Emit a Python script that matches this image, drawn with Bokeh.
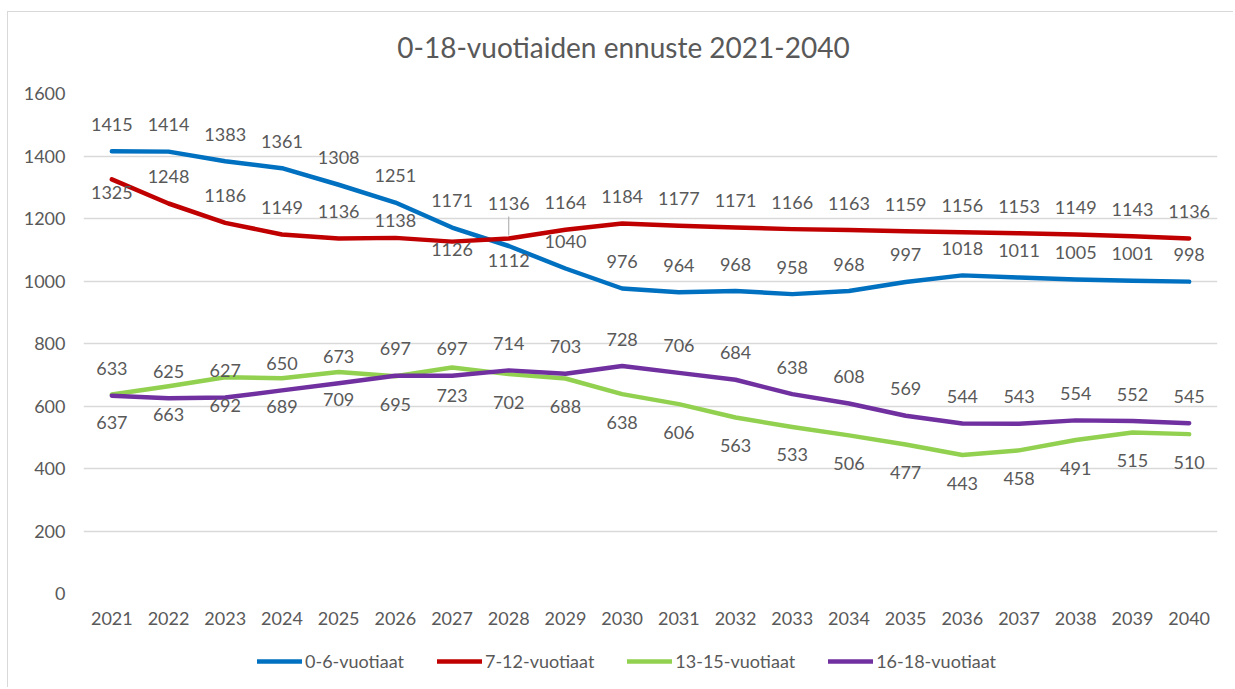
from bokeh.plotting import figure
from bokeh.models import (ColumnDataSource, Range1d, FactorRange, SingleIntervalTicker,
                          Legend, LegendItem, Div)
from bokeh.layouts import column
from bokeh.embed import file_html
from bokeh.resources import INLINE
from bokeh.core.properties import value

# ---------------- data ----------------
years = ["2021", "2022", "2023", "2024", "2025", "2026", "2027", "2028", "2029", "2030",
         "2031", "2032", "2033", "2034", "2035", "2036", "2037", "2038", "2039", "2040"]

age_0_6 = [1415, 1414, 1383, 1361, 1308, 1251, 1171, 1112, 1040, 976,
           964, 968, 958, 968, 997, 1018, 1011, 1005, 1001, 998]
age_7_12 = [1325, 1248, 1186, 1149, 1136, 1138, 1126, 1136, 1164, 1184,
            1177, 1171, 1166, 1163, 1159, 1156, 1153, 1149, 1143, 1136]
age_13_15 = [637, 663, 692, 689, 709, 695, 723, 702, 688, 638,
             606, 563, 533, 506, 477, 443, 458, 491, 515, 510]
age_16_18 = [633, 625, 627, 650, 673, 697, 697, 714, 703, 728,
             706, 684, 638, 608, 569, 544, 543, 554, 552, 545]

series_names = ["0-6-vuotiaat", "7-12-vuotiaat", "13-15-vuotiaat", "16-18-vuotiaat"]
series_values = [age_0_6, age_7_12, age_13_15, age_16_18]

title_text = "0-18-vuotiaiden ennuste 2021-2040"

# ---------------- styles ----------------
colors = ["#0070C0", "#C00000", "#92D050", "#7030A0"]
label_default_offset = [-27, -27, 28, -27]          # px, negative = above the line
label_offset_overrides = {                            # (series index, year) -> px
    (1, "2021"): 13,
    (1, "2026"): -17,
    (1, "2027"): 8,
    (1, "2028"): -35,
    (0, "2028"): 14,
}
leader_lines = [(1, "2028")]
FONT = "Lato"
TXT = "#595959"
FS = "18px"

W = 1232
TH = 70                       # title strip height
H = 570                       # main chart height
BL, BR, BT, BB = 83, 15, 23, 47
LH = 45                       # legend strip height

# ---------------- title strip (with the chart-area frame lines) ----------------
title_html = (
    '<div style="position: absolute; left: 7px; top: 11px; width: 1226px; height: 676px; '
    'border-left: 1px solid #D9D9D9; border-top: 1px solid #D9D9D9; '
    'z-index: 10; pointer-events: none;"></div>'
    '<div style="font-family: Lato; font-size: 28px; color: %s; '
    'text-align: center; width: %dpx; padding-top: 30px; padding-left: 30px; '
    'line-height: 34px; white-space: nowrap; box-sizing: border-box;">%s</div>'
) % (TXT, W - 15, title_text)
title_div = Div(text=title_html, width=W, height=TH, margin=0)

# ---------------- main chart ----------------
p = figure(width=W, height=H, title=None,
           x_range=FactorRange(*years, range_padding=0),
           y_range=Range1d(0, 1600),
           output_backend="svg", toolbar_location=None,
           min_border_left=BL, min_border_right=BR,
           min_border_top=BT, min_border_bottom=BB)

p.outline_line_color = None
p.background_fill_color = "white"
p.border_fill_color = "white"

p.xgrid.grid_line_color = None
p.ygrid.grid_line_color = "#D9D9D9"
p.ygrid.grid_line_width = 1.4
p.yaxis.ticker = SingleIntervalTicker(interval=200)

for ax in (p.xaxis, p.yaxis):
    ax.axis_line_color = None
    ax.major_tick_line_color = None
    ax.minor_tick_line_color = None
    ax.major_tick_out = 0
    ax.major_tick_in = 0
    ax.minor_tick_out = 0
    ax.minor_tick_in = 0
    ax.major_label_text_font = FONT
    ax.major_label_text_font_size = FS
    ax.major_label_text_color = TXT
p.yaxis.major_label_standoff = 18
p.xaxis.major_label_standoff = 18

for i, vals in enumerate(series_values):
    src = ColumnDataSource(dict(x=years, y=vals))
    p.line("x", "y", source=src, line_color=colors[i], line_width=4.5,
           line_join="round", line_cap="round")

px_per_unit = (H - BT - BB) / 1600.0
for (i, yr) in leader_lines:
    v = series_values[i][years.index(yr)]
    p.segment(x0=[yr], x1=[yr], y0=[v + 3 / px_per_unit], y1=[v + 22 / px_per_unit],
              line_color="#A6A6A6", line_width=1)

for i, vals in enumerate(series_values):
    offs = [label_offset_overrides.get((i, y), label_default_offset[i]) for y in years]
    src = ColumnDataSource(dict(x=years, y=vals, lbl=[str(v) for v in vals], off=offs))
    p.text("x", "y", text="lbl", source=src, y_offset="off",
           text_align="center", text_baseline="middle",
           text_font=value(FONT), text_font_size=FS, text_color=TXT)

# ---------------- legend strip ----------------
# the series are drawn again here, outside the strip's visible y range,
# only so that the legend has glyph renderers to sample.
lp = figure(width=W, height=LH, x_range=p.x_range, y_range=Range1d(-2, -1),
            output_backend="svg", toolbar_location=None,
            x_axis_type=None, y_axis_type=None,
            min_border_left=BL, min_border_right=BR, min_border_top=0, min_border_bottom=0)
lp.outline_line_color = None
lp.xgrid.visible = False
lp.ygrid.visible = False
items = []
for i, (name, vals) in enumerate(zip(series_names, series_values)):
    r = lp.line(x=years, y=vals, line_color=colors[i], line_width=4.5, line_cap="round")
    items.append(LegendItem(label=name, renderers=[r]))
legend = Legend(items=items, orientation="horizontal", location=(174, 13))
legend.border_line_color = None
legend.background_fill_alpha = 0
legend.label_text_font = FONT
legend.label_text_font_size = FS
legend.label_text_color = TXT
legend.glyph_width = 45
legend.label_standoff = 3
legend.spacing = 33
legend.padding = 0
legend.margin = 0
lp.add_layout(legend)

layout = column(title_div, p, lp, spacing=0)
open("out.html", "w").write(file_html(layout, INLINE))
